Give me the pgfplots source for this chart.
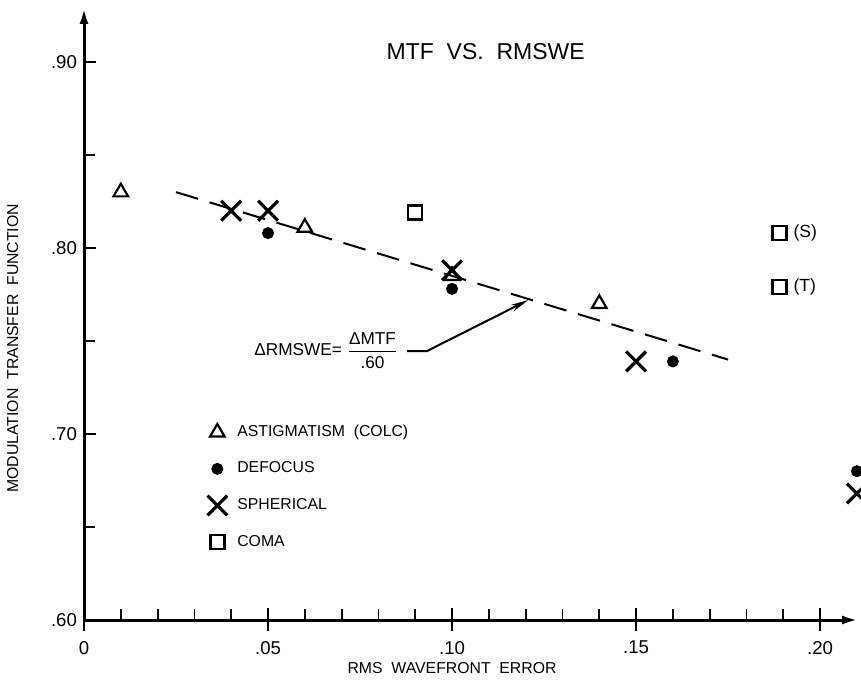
\documentclass[border=0pt]{standalone}
\usepackage{pgfplots}
\pgfplotsset{compat=1.18}
\usepackage{fontspec}
\setmainfont{Liberation Sans}
\usetikzlibrary{arrows.meta}

\newcommand{\lblfont}{\fontsize{7.9}{9}\selectfont}

\begin{document}
\begin{tikzpicture}
\useasboundingbox (0,0) rectangle (430.5pt,340.5pt);
\begin{axis}[
  at={(42pt,30.5pt)}, anchor=south west,
  scale only axis, width=387pt, height=306pt,
  xmin=0, xmax=0.2103, ymin=0.6, ymax=0.929,
  axis lines=left,
  every outer x axis line/.append style={line width=1.5pt, -{Latex[length=8pt,width=4.5pt]}},
  every outer y axis line/.append style={line width=1.5pt, -{Latex[length=8pt,width=4.5pt]}},
  clip=false,
  xtick={0,0.05,0.10,0.15,0.20}, xticklabels={0,.05,.10,.15,.20},
  minor x tick num=4,
  ytick={0.6,0.7,0.8,0.9}, yticklabels={.60,.70,.80,.90},
  minor y tick num=1,
  tick align=inside,
  major tick length=6pt, minor tick length=5.5pt,
  tick style={line width=0.9pt, black},
  extra x ticks={0,0.05,0.10,0.15,0.20}, extra x tick labels={},
  extra x tick style={tick align=center, major tick length=11pt},
  tick label style={font=\fontsize{9.3}{10}\selectfont},
  xticklabel style={yshift=-7pt},
  xlabel={RMS\ \ WAVEFRONT\ \ ERROR},
  xlabel style={at={(axis description cs:0.4755,-0.0784)}, anchor=center, font=\lblfont},
  ylabel={MODULATION\ \ TRANSFER\ \ FUNCTION},
  ylabel style={at={(axis description cs:-0.092,0.444)}, anchor=center, rotate=0, font=\lblfont},
  legend image code/.code={\path[draw=none,fill=none] (-5pt,-5pt) rectangle (5pt,5pt); \draw[#1] plot coordinates {(0pt,0pt)};},
  legend style={draw=none, fill=none, inner sep=0pt, at={(axis cs:0.0334,0.7065)}, anchor=north west,
    font=\lblfont, row sep=8.3pt, nodes={inner sep=0pt},
    /tikz/every odd column/.append style={column sep=5pt}},
  legend cell align=left,
]
\addplot[only marks, mark=triangle, mark size=4.2pt, mark options={line width=1.1pt}]
  coordinates {(0.01,0.83)(0.06,0.811)(0.10,0.785)(0.14,0.77)};
\addlegendentry{ASTIGMATISM\ \ (COLC)}
\addplot[only marks, mark=*, mark size=2.8pt]
  coordinates {(0.05,0.808)(0.10,0.778)(0.16,0.739)(0.21,0.68)};
\addlegendentry{DEFOCUS}
\addplot[only marks, mark=x, mark size=7pt, mark options={line width=1.6pt}]
  coordinates {(0.04,0.82)(0.05,0.82)(0.10,0.788)(0.15,0.739)(0.21,0.668)};
\addlegendentry{SPHERICAL}
\addplot[only marks, mark=square, mark size=3.5pt, mark options={line width=1.2pt}]
  coordinates {(0.09,0.819)(0.189,0.808)(0.189,0.779)};
\addlegendentry{COMA}
\addplot[forget plot, black, line width=1pt, dash pattern=on 11.5pt off 6pt]
  coordinates {(0.025,0.83)(0.175,0.74)};

\node[font=\fontsize{11.5}{13}\selectfont] at (axis description cs:0.519,0.928) {MTF\ \ VS.\ \ RMSWE};
\node[anchor=west, inner sep=0pt, font=\fontsize{8.8}{10}\selectfont] at (axis cs:0.1927,0.808) {(S)};
\node[anchor=west, inner sep=0pt, font=\fontsize{8.8}{10}\selectfont] at (axis cs:0.1927,0.779) {(T)};
\node[anchor=east, inner sep=0pt, font=\fontsize{8.6}{10}\selectfont] at (axis cs:0.0855,0.745)
  {ΔRMSWE= $\displaystyle\frac{\mbox{ΔMTF}}{\mbox{.60}}$};
\draw[line width=1pt, -{Stealth[length=9pt,width=3.5pt]}]
  (axis cs:0.0878,0.7446) -- (axis cs:0.0932,0.7446) -- (axis cs:0.1207,0.772);
\end{axis}
\end{tikzpicture}
\end{document}
